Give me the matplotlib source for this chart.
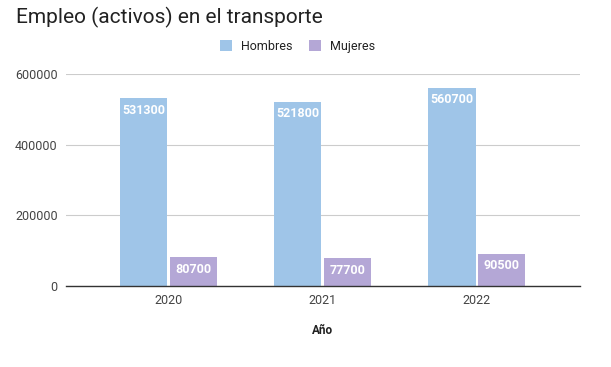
import numpy as np
import matplotlib
matplotlib.use("Agg")
import matplotlib.pyplot as plt

# data
years = ["2020", "2021", "2022"]
hombres = [531300, 521800, 560700]
mujeres = [80700, 77700, 90500]
series_names = ["Hombres", "Mujeres"]
colors = ["#9fc5e8", "#b4a7d6"]

plt.rcParams["font.family"] = ["Roboto", "DejaVu Sans"]

fig = plt.figure(figsize=(6.11, 3.67), dpi=100)
ax = fig.add_axes([0.108, 0.2215, 0.841, 0.5769])

x = np.arange(len(years))
w = 0.31
off = 0.162
for vals, dx, col, name in zip([hombres, mujeres], [-off, off], colors, series_names):
    bars = ax.bar(x + dx, vals, width=w, color=col, label=name, zorder=3)
    for b, v in zip(bars, vals):
        ax.annotate(str(v), (b.get_x() + b.get_width() / 2, v),
                    xytext=(0, -4), textcoords="offset points",
                    ha="center", va="top", color="white",
                    fontsize=9, fontweight="bold", zorder=4)

ax.set_xlim(-0.665, 2.67)
ax.set_ylim(0, 600000)
ax.set_yticks([0, 200000, 400000, 600000])
ax.set_yticklabels(["0", "200000", "400000", "600000"])
ax.set_xticks(x)
ax.set_xticklabels(years)
ax.tick_params(axis="both", length=0, labelsize=9, labelcolor="#444444")
ax.tick_params(axis="y", pad=6)
ax.tick_params(axis="x", pad=6)
ax.grid(axis="y", color="#cccccc", linewidth=0.8, zorder=0)
for s in ["top", "right", "left"]:
    ax.spines[s].set_visible(False)
ax.spines["bottom"].set_color("#333333")
ax.spines["bottom"].set_linewidth(1)
ax.spines["bottom"].set_zorder(5)

ax.set_xlabel("Año", fontsize=8.5, fontweight="bold", color="#222222", labelpad=12)

fig.text(0.027, 0.952, "Empleo (activos) en el transporte", fontsize=15,
         color="#222222", ha="left", va="center")

fig.legend(loc="center", bbox_to_anchor=(0.487, 0.874), ncol=2, frameon=False,
           fontsize=9, handlelength=1.0, handleheight=1.0, handletextpad=0.7,
           columnspacing=1.3, labelcolor="#222222")

fig.savefig("out.png", dpi=100)
